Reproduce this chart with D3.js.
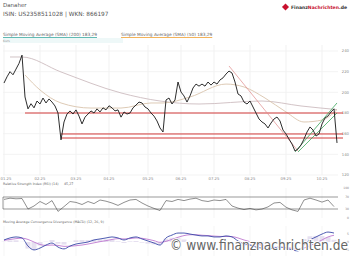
<!DOCTYPE html>
<html>
<head>
<meta charset="utf-8">
<script src="https://cdn.jsdelivr.net/npm/d3@7"></script>
<style>
  body { margin: 0; background: #fff; }
  svg { display: block; font-family: "DejaVu Sans", sans-serif; }
</style>
</head>
<body>
<div id="chart"></div>
<script>
// price (close) sampled on a regular trading index
const closes = [209, 215, 220, 217, 222.5, 228, 236, 195.5, 184, 189, 185, 191.6, 188.7, 194.5, 189.7, 193.6,
    190.6, 186.8, 180, 154, 171.3, 179, 182, 179, 183, 177, 169.4, 176, 179, 182, 180, 184, 181, 185, 183, 187,
    185, 182, 183, 176, 181, 179, 180, 185, 187.7, 190.6, 189.7, 185.8, 184, 180, 177, 172.3, 165.5, 161.6,
    192.6, 194.5, 188.7, 192.6, 210, 200.3, 196.5, 190.6, 196.5, 204.2, 208, 206, 208, 206, 210, 207, 210, 208,
    212, 214, 217.7, 220.6, 218.7, 210, 198.4, 196.5, 190.6, 188.7, 191.6, 185.8, 180, 174.2, 171.3, 169.4,
    165.5, 170.3, 174.2, 176.1, 172.3, 163.5, 159.7, 154.8, 150, 143.2, 145.2, 149, 154.8, 161.6, 166.5, 163.5,
    157.7, 159.7, 169.4, 175.2, 177.1, 181, 184, 151];

const sma200Idx = [2, 6, 19, 39, 52, 65, 86, 99, 111];
const sma200 = [234.2, 234.2, 219.7, 199.4, 191.6, 188.7, 191.6, 186.8, 183.3];
const sma50Idx = [7, 12, 19, 29, 39, 49, 53, 62, 74, 80, 87, 94, 100, 106, 111];
const sma50 = [216.8, 202.3, 189.7, 184.8, 184.8, 189.7, 189.7, 195.5, 208, 205.2, 194.5, 181, 171.3, 173.2, 183.3];

// support / resistance levels: [value, start index]
const levels = [[180, 7], [159.7, 19], [155.8, 19]];
const trendDown = [[75, 225.5], [98, 143.2]];
const channelUp = [[[97, 142.3], [111, 189.7]], [[98, 142.3], [111, 180]]];

// indicators, one value every second index
const rsi = [62, 66, 64, 65, 30, 40, 55, 45, 58, 22, 38, 55, 52, 45, 55, 48, 60, 56, 50, 42, 52, 60, 62, 50,
    40, 32, 25, 58, 55, 62, 58, 63, 66, 58, 55, 60, 58, 62, 40, 33, 28, 32, 27, 30, 37, 50, 52, 36, 27, 22,
    60, 66, 60, 53, 60, 38];
const macd = [1.2, 2.4, 3, 2.4, -2.4, -4.7, -3.6, -1.8, -0.6, -3, -4.1, -2.4, -1.2, -0.6, 0, 1.2, 1.8, 2.4,
    3, 2.4, 1.2, 2.4, 3, 1.8, 0.6, -0.6, -1.8, 2.4, 4.1, 5.3, 5.3, 4.7, 4.1, 3.6, 3.6, 3, 3, 3.6, 3, 0.6,
    -1.2, -1.8, -3, -3.6, -4.1, -3.6, -3, -3.6, -4.7, -5.3, -1.8, 1.2, 3, 4.7, 5.9, 5.3];
const signal = [1, 1.5, 2, 2.3, 1.5, 0, -1.5, -2, -1.8, -2, -2.6, -2.5, -2.2, -1.8, -1.2, -0.5, 0.2, 0.8,
    1.5, 2, 1.8, 2, 2.4, 2.2, 1.6, 0.8, -0.2, 0.4, 1.6, 2.8, 3.8, 4.3, 4.3, 4, 3.8, 3.5, 3.3, 3.3, 3.2, 2.4,
    1.2, 0.2, -1, -2, -2.8, -3.2, -3.2, -3.3, -3.8, -4.3, -3.6, -2.2, -0.6, 1.2, 3, 4];

const xTickIdx = [0, 12, 24, 35, 48, 59, 70, 82, 94, 106];
const xTickLabels = ["01.25", "02.25", "03.25", "04.25", "05.25", "06.25", "07.25", "08.25", "09.25", "10.25"];
const yTicks = [240, 220, 200, 180, 160, 140, 120];
const rsiTicks = [100, 70, 30, 0];
const macdTicks = [5, 0, -5];

const W = 350, H = 257;
const svg = d3.select("#chart").append("svg").attr("width", W).attr("height", H);

const x = d3.scaleLinear().domain([0, 111]).range([4, 337]);
const y = d3.scaleLinear().domain([120, 240]).range([175, 51]);
const yRsi = d3.scaleLinear().domain([0, 100]).range([218, 188]);
const yMacd = d3.scaleLinear().domain([-8, 8]).range([255.5, 228.5]);

// header
svg.append("text").attr("x", 3).attr("y", 7).attr("font-size", 5.5).attr("fill", "#555").text("Danaher");
svg.append("text").attr("x", 3).attr("y", 16).attr("font-size", 5.8).attr("fill", "#555")
    .text("ISIN: US2358511028 | WKN: 866197");

// logo
let logo = svg.append("g").attr("transform", "translate(283,8)");
logo.append("rect").attr("x", 0).attr("y", -3.5).attr("width", 5).attr("height", 5)
    .attr("transform", "rotate(45,2.5,-1)").attr("fill", "#c8102e");
logo.append("text").attr("x", 8).attr("y", 1).attr("font-size", 4.6).attr("font-weight", "bold")
    .attr("textLength", 56).attr("lengthAdjust", "spacingAndGlyphs")
    .call(t => {
        t.append("tspan").attr("fill", "#333").text("Finanz");
        t.append("tspan").attr("fill", "#c8102e").text("Nachrichten");
        t.append("tspan").attr("fill", "#333").text(".de");
    });

// legend
svg.append("rect").attr("x", 3).attr("y", 38).attr("width", 120).attr("height", 5).attr("fill", "#eef8f8");
const legend = [
    {label: "Simple Moving Average (SMA) (200) 183,29", x: 3, color: "#3aa8a0"},
    {label: "Simple Moving Average (SMA) (50) 183,29", x: 121, color: "#f0a030"}
];
legend.forEach(d => {
    let t = svg.append("text").attr("x", d.x).attr("y", 36).attr("font-size", 4.3).attr("fill", "#666").text(d.label);
    let w = t.node().getComputedTextLength();
    svg.append("line").attr("x1", d.x).attr("x2", d.x + w).attr("y1", 37.5).attr("y2", 37.5)
        .attr("stroke", d.color).attr("stroke-width", 0.8);
});
svg.append("text").attr("x", 3).attr("y", 42).attr("font-size", 3.2).attr("fill", "#999").text("Kurs");

// grid
svg.append("g").selectAll("line").data(xTickIdx).join("line")
    .attr("x1", d => x(d)).attr("x2", d => x(d)).attr("y1", 45).attr("y2", 175)
    .attr("stroke", "#eee").attr("stroke-width", 0.8);
svg.append("g").selectAll("line").data(yTicks).join("line")
    .attr("x1", 3).attr("x2", 338).attr("y1", d => y(d)).attr("y2", d => y(d))
    .attr("stroke", "#f0f0f0").attr("stroke-width", 0.8);
svg.append("g").selectAll("text").data(yTicks).join("text")
    .attr("x", 349).attr("y", d => y(d) + 1.3).attr("text-anchor", "end")
    .attr("font-size", 3.8).attr("fill", "#888").text(d => d);

// x labels
svg.append("g").selectAll("text").data(xTickIdx).join("text")
    .attr("x", d => Math.max(x(d), 6)).attr("y", 180).attr("text-anchor", "middle")
    .attr("font-size", 3.8).attr("fill", "#888").text((d, i) => xTickLabels[i]);

// moving averages
const maLine = d3.line().x(d => x(d[0])).y(d => y(d[1])).curve(d3.curveMonotoneX);
svg.append("path").datum(sma200Idx.map((d, i) => [d, sma200[i]])).attr("d", maLine)
    .attr("fill", "none").attr("stroke", "#cdbcc0").attr("stroke-width", 0.9);
svg.append("path").datum(sma50Idx.map((d, i) => [d, sma50[i]])).attr("d", maLine)
    .attr("fill", "none").attr("stroke", "#d9c4ad").attr("stroke-width", 0.9);

// levels
svg.append("g").selectAll("line").data(levels).join("line")
    .attr("x1", d => x(d[1])).attr("x2", x(113)).attr("y1", d => y(d[0])).attr("y2", d => y(d[0]))
    .attr("stroke", "#d23a3a").attr("stroke-width", 1);

// trend lines
const seg = d3.line().x(d => x(d[0])).y(d => y(d[1]));
svg.append("path").attr("d", seg(trendDown)).attr("stroke", "#e08a8a").attr("stroke-width", 0.7).attr("fill", "none");
channelUp.forEach(c => {
    svg.append("path").attr("d", seg(c)).attr("stroke", "#3aa45a").attr("stroke-width", 0.8).attr("fill", "none");
});

// price
const priceLine = d3.line().x((d, i) => x(i)).y(d => y(d));
svg.append("path").datum(closes).attr("d", priceLine)
    .attr("fill", "none").attr("stroke", "#222").attr("stroke-width", 0.95);

// RSI panel
svg.append("text").attr("x", 3).attr("y", 185).attr("font-size", 3.3).attr("fill", "#666")
    .text("Relative Strength Index (RSI) (14)");
svg.append("text").attr("x", 64).attr("y", 185).attr("font-size", 3.3).attr("fill", "#666").text("45,27");
svg.append("g").selectAll("line").data(xTickIdx).join("line")
    .attr("x1", d => x(d)).attr("x2", d => x(d)).attr("y1", 188).attr("y2", 218)
    .attr("stroke", "#f2f2f2").attr("stroke-width", 0.8);
svg.append("g").selectAll("line").data([70, 30]).join("line")
    .attr("x1", 3).attr("x2", 338).attr("y1", d => yRsi(d)).attr("y2", d => yRsi(d))
    .attr("stroke", "#555").attr("stroke-width", 0.6);
svg.append("line").attr("x1", 3).attr("x2", 3).attr("y1", yRsi(70)).attr("y2", yRsi(30))
    .attr("stroke", "#555").attr("stroke-width", 0.6);
svg.append("g").selectAll("text").data(rsiTicks).join("text")
    .attr("x", 349).attr("y", d => yRsi(d) + 1).attr("text-anchor", "end")
    .attr("font-size", 3).attr("fill", "#888").text(d => d);
svg.append("path").datum(rsi).attr("d", d3.line().x((d, i) => x(i * 2)).y(d => yRsi(d)))
    .attr("fill", "none").attr("stroke", "#444").attr("stroke-width", 0.6);

// MACD panel
svg.append("text").attr("x", 3).attr("y", 223).attr("font-size", 3.3).attr("fill", "#666")
    .text("Moving Average Convergence Divergence (MACD) (12, 26, 9)");
svg.append("g").selectAll("line").data(xTickIdx).join("line")
    .attr("x1", d => x(d)).attr("x2", d => x(d)).attr("y1", 226).attr("y2", 256)
    .attr("stroke", "#f2f2f2").attr("stroke-width", 0.8);
svg.append("g").selectAll("text").data(macdTicks).join("text")
    .attr("x", 349).attr("y", d => yMacd(d) + 1).attr("text-anchor", "end")
    .attr("font-size", 3).attr("fill", "#888").text(d => d);
svg.append("g").selectAll("rect").data(macd).join("rect")
    .attr("x", (d, i) => x(i * 2) - 2.5).attr("width", 5)
    .attr("y", (d, i) => Math.min(yMacd(d - signal[i]), yMacd(0)))
    .attr("height", (d, i) => Math.abs(yMacd(d - signal[i]) - yMacd(0)))
    .attr("fill", "#e6e0f0");
svg.append("path").datum(signal).attr("d", d3.line().x((d, i) => x(i * 2)).y(d => yMacd(d)).curve(d3.curveMonotoneX))
    .attr("fill", "none").attr("stroke", "#c07ad0").attr("stroke-width", 0.9);
svg.append("path").datum(macd).attr("d", d3.line().x((d, i) => x(i * 2)).y(d => yMacd(d)).curve(d3.curveMonotoneX))
    .attr("fill", "none").attr("stroke", "#3a4aa8").attr("stroke-width", 0.9);

// watermark
svg.append("text").attr("x", 348).attr("y", 250).attr("text-anchor", "end")
    .attr("font-size", 13.5).attr("fill", "#666")
    .attr("stroke", "#fff").attr("stroke-width", 2).attr("paint-order", "stroke")
    .attr("textLength", 178).attr("lengthAdjust", "spacingAndGlyphs")
    .text("© www.finanznachrichten.de");
</script>
</body>
</html>
